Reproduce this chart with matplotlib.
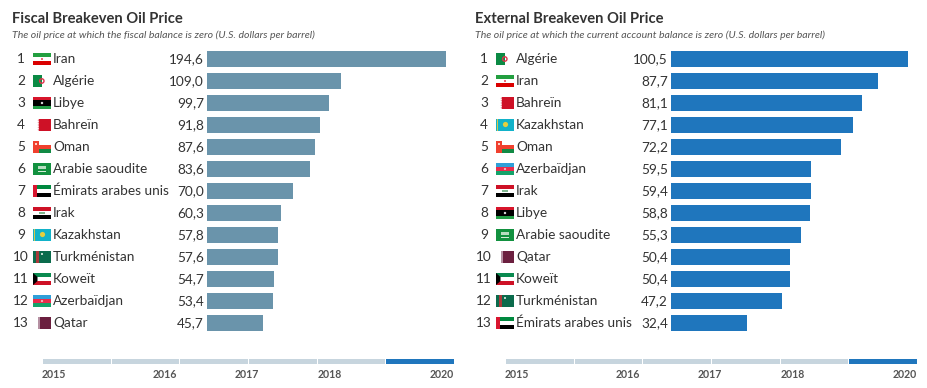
import matplotlib
matplotlib.use("Agg")
import matplotlib.pyplot as plt
from matplotlib.patches import Rectangle, Polygon, Circle

plt.rcParams['font.family'] = ['Lato', 'DejaVu Sans']

fiscal_names = ["Iran", "Algérie", "Libye", "Bahreïn", "Oman", "Arabie saoudite", "Émirats arabes unis",
                "Irak", "Kazakhstan", "Turkménistan", "Koweït", "Azerbaïdjan", "Qatar"]
fiscal_values = [194.6, 109.0, 99.7, 91.8, 87.6, 83.6, 70.0, 60.3, 57.8, 57.6, 54.7, 53.4, 45.7]

external_names = ["Algérie", "Iran", "Bahreïn", "Kazakhstan", "Oman", "Azerbaïdjan", "Irak", "Libye",
                  "Arabie saoudite", "Qatar", "Koweït", "Turkménistan", "Émirats arabes unis"]
external_values = [100.5, 87.7, 81.1, 77.1, 72.2, 59.5, 59.4, 58.8, 55.3, 50.4, 50.4, 47.2, 32.4]

years = ["2015", "2016", "2017", "2018", "2020"]
steps = 6

TEXT = "#333333"
LIGHT = "#c7d5de"
BLUE = "#1f76bd"
STEEL = "#6a94ab"

W, H = 928, 388
fig = plt.figure(figsize=(W / 100, H / 100), dpi=100)

# overlay in pixel coords for labels and flags
bg = fig.add_axes([0, 0, 1, 1])
bg.set_xlim(0, W)
bg.set_ylim(H, 0)
bg.axis("off")


def px_axes(x0, y0, x1, y1):
    a = fig.add_axes([x0 / W, 1 - y1 / H, (x1 - x0) / W, (y1 - y0) / H])
    a.patch.set_alpha(0)
    a.axis("off")
    return a


def rect(x, y, w, h, c):
    bg.add_patch(Rectangle((x, y), w, h, fc=c, ec="none"))


def stripes(x, y, w, h, cols):
    for i, c in enumerate(cols):
        rect(x, y + i * h / len(cols), w, h / len(cols), c)


def flag(name, x, yc):
    w, h = 18, 12
    y = yc - h / 2
    if name == "Iran":
        stripes(x, y, w, h, ["#239f40", "#ffffff", "#da0000"])
        rect(x + 8, yc - 1.2, 2, 2.4, "#e8707a")
    elif name == "Algérie":
        rect(x, y, 9, h, "#0b8a44")
        bg.add_patch(Circle((x + 8.8, yc), 2.2, fc="none", ec="#e2304a", lw=1))
    elif name == "Libye":
        rect(x, y, w, h, "#000000")
        rect(x, y, w, 3, "#d7152b")
        rect(x, y + 9, w, 3, "#239e46")
        bg.add_patch(Circle((x + 9, yc), 1.2, fc="#dddddd", ec="none"))
    elif name == "Bahreïn":
        rect(x + 6, y, 12, h, "#ce1126")
        pts = []
        for k in range(5):
            pts += [(x + 6, y + k * h / 5), (x + 4.5, y + (k + .5) * h / 5)]
        pts.append((x + 6, y + h))
        bg.add_patch(Polygon(pts, fc="#e78a94", ec="none"))
    elif name == "Oman":
        stripes(x, y, w, h, ["#ffffff", "#f0402e", "#128a45"])
        rect(x, y, 6, h, "#f0402e")
        rect(x + 2, y + 1.5, 2, 2, "#ffd0c8")
    elif name == "Arabie saoudite":
        rect(x, y, w, h, "#12913f")
        rect(x + 5, y + 3, 8, 2.5, "#b7dcc0")
        rect(x + 5, y + 8, 8, 1, "#d5ecd9")
    elif name == "Émirats arabes unis":
        stripes(x, y, w, h, ["#00893f", "#ffffff", "#000000"])
        rect(x, y, 4.5, h, "#d8152f")
    elif name == "Irak":
        stripes(x, y, w, h, ["#ce1126", "#ffffff", "#000000"])
        rect(x + 6, yc - 0.8, 6, 1.6, "#7fb58e")
    elif name == "Kazakhstan":
        rect(x, y, w, h, "#12b2c9")
        rect(x + 0.7, y, 1.2, h, "#d9c64a")
        bg.add_patch(Circle((x + 9.5, yc - 0.5), 2.6, fc="#e4cf3e", ec="none"))
    elif name == "Turkménistan":
        rect(x, y, w, h, "#0b6b4c")
        rect(x + 3, y, 3.5, h, "#a83a3a")
        rect(x + 8, y + 1.5, 2, 2, "#bcd7cb")
    elif name == "Koweït":
        stripes(x, y, w, h, ["#0a8a50", "#ffffff", "#ce1126"])
        bg.add_patch(Polygon([(x, y), (x + 4.5, y + 4), (x + 4.5, y + 8), (x, y + 12)], fc="#000000", ec="none"))
    elif name == "Azerbaïdjan":
        stripes(x, y, w, h, ["#2f9fd8", "#ea2b4b", "#14a36a"])
        bg.add_patch(Circle((x + 9, yc), 1.1, fc="#f3b9c2", ec="none"))
    elif name == "Qatar":
        rect(x + 6, y, 12, h, "#6b1f3f")
        rect(x + 5.5, y, 1.5, h, "#b590a2")


def panel(dx, bar_x0, bar_x1, xmax, title, subtitle, names, values, color):
    bg.text(12 + dx, 19, title, fontsize=10.6, fontweight="bold", color=TEXT, va="center", ha="left")
    bg.text(12 + dx, 35, subtitle, fontsize=7.55, style="italic", color="#555555", va="center", ha="left")

    ax = px_axes(bar_x0, 48, bar_x1, 334)
    rows = list(range(len(names)))
    ax.barh(rows, values, height=16 / 22, color=color)
    ax.set_xlim(0, xmax)
    ax.set_ylim(len(names) - 0.5, -0.5)

    for i, (n, v) in enumerate(zip(names, values)):
        yc = 59 + 22 * i
        bg.text(21 + dx, yc, str(i + 1), fontsize=9.8, color=TEXT, va="center", ha="center")
        flag(n, 33 + dx, yc)
        bg.text(53 + dx, yc, n, fontsize=9.8, color=TEXT, va="center", ha="left")
        bg.text(bar_x0 - 3, yc, f"{v:.1f}".replace(".", ","), fontsize=9.8, color=TEXT, va="center", ha="right")

    # year slider at the bottom
    tl = px_axes(43 + dx, 359, 454 + dx, 364)
    tl.bar(range(steps), [1] * steps, width=0.985, align="edge",
           color=[LIGHT] * (steps - 1) + [BLUE])
    tl.set_xlim(0, steps - 0.015)
    tl.set_ylim(0, 1)

    spots = [(42, "left"), (177, "right"), (259, "right"), (342, "right"), (454, "right")]
    for yr, (x, ha) in zip(years, spots):
        bg.text(x + dx, 375, yr, fontsize=7.6, fontweight="bold", color="#555555", va="center", ha=ha)


panel(0, 207, 454, 201.2, "Fiscal Breakeven Oil Price",
      "The oil price at which the fiscal balance is zero (U.S. dollars per barrel)",
      fiscal_names, fiscal_values, STEEL)
panel(463, 671, 917, 104.4, "External Breakeven Oil Price",
      "The oil price at which the current account balance is zero (U.S. dollars per barrel)",
      external_names, external_values, BLUE)

fig.savefig("out.png", dpi=100)
